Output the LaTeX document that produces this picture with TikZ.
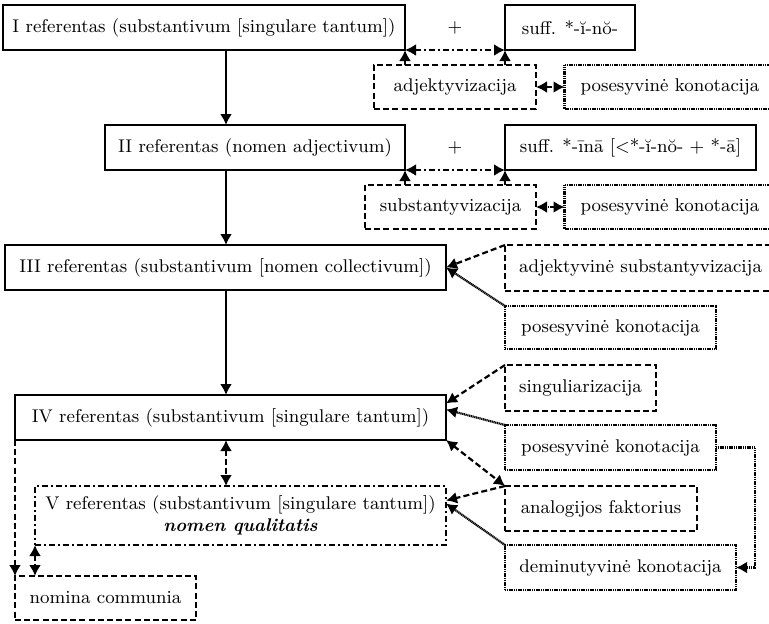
\documentclass[tikz,border=0pt]{standalone}
\usepackage{fontspec}
\usetikzlibrary{arrows.meta,calc}
\tikzset{
  base/.style={inner sep=0pt, outer sep=0pt, line width=1pt, font=\fontsize{9.2}{11}\selectfont},
  sbox/.style={base, draw, minimum height=22.5pt},
  dbox/.style={base, draw, minimum height=22.5pt, dash pattern=on 3pt off 1.6pt},
  obox/.style={base, draw, minimum height=22.5pt, line width=1.1pt, dash pattern=on 0.6pt off 0.3pt},
  ddbox/.style={base, draw, line width=1.1pt, dash pattern=on 3pt off 1.5pt on 1pt off 1.5pt},
  tip/.style={-{Latex[length=5.5pt,width=6pt]}},
  tips/.style={{Latex[length=5.5pt,width=6pt]}-{Latex[length=5.5pt,width=6pt]}},
  solidl/.style={line width=1.1pt},
  dashl/.style={line width=1.1pt, dash pattern=on 3pt off 1.6pt},
  dotl/.style={line width=1.1pt, dash pattern=on 0.6pt off 0.3pt},
  dashdotl/.style={line width=1.1pt, dash pattern=on 3pt off 1.5pt on 1pt off 1.5pt},
}
\begin{document}
\begin{tikzpicture}[x=0.5pt,y=-0.5pt]
\useasboundingbox (0,0) rectangle (769,623);
\coordinate (spine) at (226,0);
% row I
\node[sbox, minimum width=201pt] (I) at (204,27.5) {I referentas (substantivum [singulare tantum])};
\node[base] (plus1) at (455,27.5) {+};
\node[sbox, minimum width=65pt] (suff1) at (570,27.5) {suff. *-ĭ-nŏ-};
\node[dbox, minimum width=81pt, minimum height=22pt] (adj) at (455,87) {adjektyvizacija};
\node[obox, minimum width=105.5pt, minimum height=22pt] (pos1) at (670,87) {posesyvinė konotacija};
% row II
\node[sbox, minimum width=150pt] (II) at (255,147.5) {II referentas (nomen adjectivum)};
\node[base] (plus2) at (455,147.5) {+};
\node[sbox, minimum width=125.5pt] (suff2) at (630.5,147.5) {suff. *-īnā [<*-ĭ-nŏ- + *-ā]};
\node[dbox, minimum width=85.5pt, minimum height=22pt] (subst) at (450.5,207) {substantyvizacija};
\node[obox, minimum width=105.5pt, minimum height=22pt] (pos2) at (670,207) {posesyvinė konotacija};
% row III
\node[sbox, minimum width=220.5pt] (III) at (225.5,267.5) {III referentas (substantivum [nomen collectivum])};
\node[dbox, minimum width=135.5pt, minimum height=23pt] (adjsub) at (640.5,268) {adjektyvinė substantyvizacija};
\node[obox, minimum width=105.5pt, minimum height=21.5pt] (pos3) at (610.5,327.5) {posesyvinė konotacija};
% row IV
\node[sbox, minimum width=215.5pt] (IV) at (230.5,417.5) {IV referentas (substantivum [singulare tantum])};
\node[dbox, minimum width=75.5pt, minimum height=23pt] (sing) at (580.5,388) {singuliarizacija};
\node[obox, minimum width=105.5pt] (pos4) at (610.5,447.5) {posesyvinė konotacija};
\node[dbox, minimum width=96pt] (anal) at (601,508.5) {analogijos faktorius};
\node[obox, minimum width=115.5pt] (demin) at (620.5,567.5) {deminutyvinė konotacija};
% row V
\node[ddbox, minimum width=205.5pt, minimum height=29.5pt, align=center] (V) at (240.5,515.5)
  {V referentas (substantivum [singulare tantum])\\\textbf{\textit{nomen qualitatis}}};
\node[dbox, minimum width=90.5pt, minimum height=22pt] (nom) at (105.5,598) {nomina communia};
% main spine
\draw[solidl,tip] (I.south -| spine) -- (II.north -| spine);
\draw[solidl,tip] (II.south -| spine) -- (III.north -| spine);
\draw[solidl,tip] (III.south -| spine) -- (IV.north -| spine);
\draw[dashl,tips] (IV.south -| spine) -- (V.north -| spine);
% row I links
\draw[dashdotl,tips] (I.south east) -- (suff1.south west);
\draw[solidl,tip] (I.south east |- adj.north) -- (I.south east);
\draw[solidl,tip] (suff1.south west |- adj.north) -- (suff1.south west);
\draw[dashl,tips] (adj.east) -- (pos1.west);
% row II links
\draw[dashdotl,tips] (II.south east) -- (suff2.south west);
\draw[solidl,tip] (II.south east |- subst.north) -- (II.south east);
\draw[solidl,tip] (suff2.south west |- subst.north) -- (suff2.south west);
\draw[dotl,tips] (subst.east) -- (pos2.west);
% row III links
\draw[dashl,tip] (adjsub.north west) -- (III.east);
\draw[dotl,tip] (pos3.north west) -- (III.east);
% row IV links
\draw[dashl,tip] (sing.north west) -- ($(IV.east)+(0,-14)$);
\draw[dotl,tip] (pos4.north west) -- ($(IV.east)+(0,-8)$);
\draw[dashl,tips] (IV.south east) -- (anal.north west);
\draw[dashl,tip] (anal.north west) -- ($(V.east)+(0,-15)$);
\draw[dotl,tip] (demin.north west) -- ($(V.east)+(0,-12)$);
\draw[dotl,tip] (pos4.east) -- ++(39,0) |- (demin.east);
% left links
\draw[dashl,tip] (IV.south west) -- (nom.north west);
\draw[dashl,tips] (V.south west) -- (V.south west |- nom.north);
\end{tikzpicture}
\end{document}
